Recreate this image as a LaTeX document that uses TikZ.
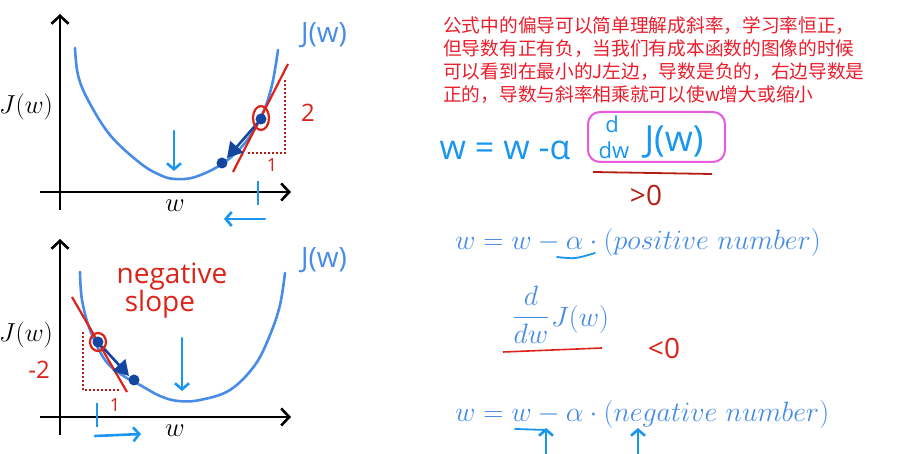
\documentclass[tikz,border=0pt]{standalone}
\usepackage{fix-cm}
\usepackage{fontspec}
\usepackage{amsmath}
\usetikzlibrary{arrows.meta}
\newfontfamily\cjk{Noto Sans CJK SC}
\newfontfamily\hand{Open Sans}
\definecolor{curveblue}{RGB}{72,140,232}
\definecolor{handblue}{RGB}{25,150,240}
\definecolor{darkblue}{RGB}{20,70,160}
\definecolor{redline}{RGB}{220,35,25}
\definecolor{dotred}{RGB}{180,30,20}
\definecolor{txtred}{RGB}{235,30,45}
\definecolor{pinkbox}{RGB}{232,90,222}
\definecolor{mathblue}{RGB}{70,140,230}
\tikzset{
  axis/.style={line width=2.6pt, black, -{Straight Barb[length=8pt,width=17pt,line width=2.6pt]}},
  curve/.style={line width=2.6pt, curveblue, line cap=round},
  handarrow/.style={line width=2.6pt, handblue, line cap=round, -{Straight Barb[length=6pt,width=14pt,line width=2.6pt]}},
  stepline/.style={line width=2.6pt, darkblue, -{Triangle[length=15pt,width=17pt]}},
  tangent/.style={line width=2.2pt, redline},
  dotbox/.style={line width=2pt, dotred, dotted},
  ring/.style={line width=2.2pt, redline},
  bdot/.style={circle, fill=darkblue, inner sep=0pt, minimum size=11pt},
  tick/.style={line width=2.4pt, handblue},
  lbl/.style={inner sep=0pt},
}
\begin{document}
\begin{tikzpicture}[x=1pt,y=-1pt]
\useasboundingbox (0,0) rectangle (914,454);
\fill[white] (0,0) rectangle (914,454);

% ---------- top plot ----------
\coordinate (ta0) at (60,210);
\coordinate (ta1) at (60,14);
\coordinate (tb0) at (40,192);
\coordinate (tb1) at (291,192);
\draw[axis] (ta0) -- (ta1);
\draw[axis] (tb0) -- (tb1);
\node[lbl] (tJ) at (26,107) {\fontsize{26}{26}\selectfont $J(w)$};
\node[lbl] (tw) at (175,206) {\fontsize{27}{27}\selectfont $w$};
\draw[curve] plot[smooth, tension=0.6] coordinates {(75,48) (78,75) (88,100) (110,135) (140,163) (160,175) (175,179) (195,177) (222,164) (245,143) (262,115) (272,85) (278,50)};
\node[lbl, text=curveblue] (tJlab) at (324,35) {\hand\fontsize{28}{28}\selectfont J(w)};
\coordinate (tda) at (174,131);
\coordinate (tdb) at (174,171);
\draw[handarrow] (tda) -- (tdb);
% dotted triangle
\coordinate (tv0) at (285,80);
\coordinate (tv1) at (285,153);
\coordinate (th0) at (246,153);
\draw[dotbox] (tv0) -- (tv1) -- (th0);
\node[lbl, text=redline] (t2) at (308,113) {\hand\fontsize{24}{24}\selectfont 2};
\node[lbl, text=redline] (t1) at (272,165) {\hand\fontsize{18}{18}\selectfont 1};
% tangent
\coordinate (tt0) at (233,172);
\coordinate (tt1) at (288,64);
\draw[tangent] (tt0) -- (tt1);
\node[bdot] (tp1) at (261,119) {};
\node[bdot] (tp2) at (222,163) {};
\draw[stepline] (tp1) -- (227,158);
\draw[ring] (261,118) ellipse [x radius=8, y radius=12];
% tick and arrow
\coordinate (tk0) at (258,181);
\coordinate (tk1) at (258,205);
\draw[tick] (tk0) -- (tk1);
\coordinate (tl0) at (265,219);
\coordinate (tl1) at (224,219);
\draw[handarrow] (tl0) -- (tl1);

% ---------- bottom plot ----------
\coordinate (ba0) at (60,435);
\coordinate (ba1) at (60,239);
\coordinate (bb0) at (40,417);
\coordinate (bb1) at (291,417);
\draw[axis] (ba0) -- (ba1);
\draw[axis] (bb0) -- (bb1);
\node[lbl] (bJ) at (26,335) {\fontsize{26}{26}\selectfont $J(w)$};
\node[lbl] (bw) at (175,431) {\fontsize{27}{27}\selectfont $w$};
\draw[curve] plot[smooth, tension=0.6] coordinates {(80,272) (82,300) (90,330) (105,360) (122,375) (140,385) (160,396) (178,401) (200,400) (230,390) (255,365) (270,335) (280,305) (285,273)};
\node[lbl, text=curveblue] (bJlab) at (324,260) {\hand\fontsize{28}{28}\selectfont J(w)};
\node[lbl, text=redline] (neg) at (172,277) {\hand\fontsize{28}{28}\selectfont negative};
\node[lbl, text=redline] (slope) at (160,304) {\hand\fontsize{28}{28}\selectfont slope};
\coordinate (bda) at (182,338);
\coordinate (bdb) at (182,391);
\draw[handarrow] (bda) -- (bdb);
\coordinate (bv0) at (83,332);
\coordinate (bv1) at (83,390);
\coordinate (bh0) at (121,390);
\draw[dotbox] (bv0) -- (bv1) -- (bh0);
\node[lbl, text=redline] (bm2) at (39,370) {\hand\fontsize{24}{24}\selectfont -2};
\node[lbl, text=redline] (b1) at (115,405) {\hand\fontsize{18}{18}\selectfont 1};
\coordinate (bt0) at (72,297);
\coordinate (bt1) at (127,392);
\draw[tangent] (bt0) -- (bt1);
\node[bdot] (bp1) at (98,342) {};
\node[bdot] (bp2) at (134,380) {};
\draw[stepline] (bp1) -- (129,376);
\draw[ring] (98,342) ellipse [x radius=8, y radius=9];
\coordinate (bk0) at (97,403);
\coordinate (bk1) at (97,427);
\draw[tick] (bk0) -- (bk1);
\coordinate (br0) at (95,436);
\coordinate (br1) at (141,434);
\draw[handarrow] (br0) -- (br1);

% ---------- Chinese note ----------
\node[anchor=north west, align=left, text=txtred, inner sep=0pt,
      font=\cjk\fontsize{18.7}{23.3}\selectfont] (note) at (443,16)
 {公式中的偏导可以简单理解成斜率，学习率恒正，\\但导数有正有负，当我们有成本函数的图像的时候\\可以看到在最小的J左边，导数是负的，右边导数是\\正的，导数与斜率相乘就可以使w增大或缩小};

% ---------- handwritten formula ----------
\node[lbl, text=handblue] (hlhs) at (505,150) {\hand\fontsize{34}{34}\selectfont w = w -α};
\draw[pinkbox, line width=2pt, rounded corners=12pt] (588,112) rectangle (725,162);
\node[lbl, text=handblue] (hd) at (612,124) {\hand\fontsize{22}{22}\selectfont d};
\node[lbl, text=handblue] (hdw) at (614,150) {\hand\fontsize{22}{22}\selectfont dw};
\node[lbl, text=handblue] (hJ) at (674,142) {\hand\fontsize{36}{36}\selectfont J(w)};
\coordinate (hu0) at (593,172);
\coordinate (hu1) at (712,174);
\draw[line width=1.8pt, dotred] (hu0) -- (hu1);
\node[lbl, text=dotred] (hgt) at (646,195) {\hand\fontsize{28}{28}\selectfont >0};

% ---------- typeset formulas ----------
\node[anchor=west, text=mathblue, inner sep=0pt] (f1) at (455,243) {\fontsize{28}{28}\selectfont $w = w - \alpha\cdot(positive\ number)$};
\draw[handblue, line width=1.8pt, line cap=round] (557,257) .. controls (575,259) .. (595,253);
\node[text=mathblue, inner sep=0pt] (fd) at (531,315) {\fontsize{28}{28}\selectfont $\dfrac{d}{dw}$};
\node[anchor=west, text=mathblue, inner sep=0pt] (fJ) at (551,320) {\fontsize{28}{28}\selectfont $J(w)$};
\coordinate (fu0) at (503,352);
\coordinate (fu1) at (602,348);
\draw[redline, line width=1.6pt] (fu0) -- (fu1);
\node[lbl, text=redline] (flt) at (664,348) {\hand\fontsize{28}{28}\selectfont <0};
\node[anchor=west, text=mathblue, inner sep=0pt] (f2) at (455,415) {\fontsize{28}{28}\selectfont $w = w - \alpha\cdot(negative\ number)$};
\coordinate (fw0) at (515,429);
\coordinate (fw1) at (547,430);
\draw[handblue, line width=1.8pt, line cap=round] (fw0) -- (fw1);
\coordinate (ua0) at (546,455);
\coordinate (ua1) at (546,428);
\draw[handarrow] (ua0) -- (ua1);
\coordinate (ub0) at (638,455);
\coordinate (ub1) at (638,428);
\draw[handarrow] (ub0) -- (ub1);
\end{tikzpicture}
\end{document}
